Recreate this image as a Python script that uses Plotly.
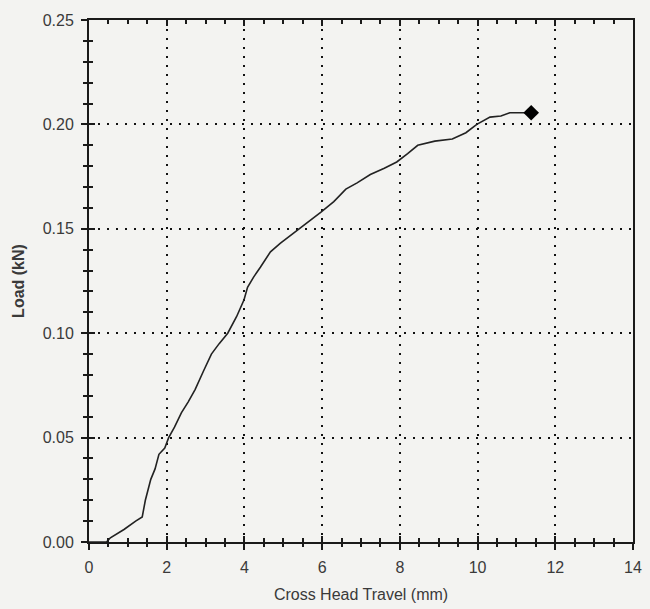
import plotly.graph_objects as go

travel_mm = [0.0, 0.45, 0.55, 0.9, 1.2, 1.37, 1.45, 1.59, 1.7, 1.80, 1.95, 2.05, 2.2, 2.38, 2.55, 2.73, 2.95,
             3.15, 3.35, 3.57, 3.8, 3.99, 4.08, 4.24, 4.41, 4.67, 4.92, 5.34, 5.65, 5.97, 6.3, 6.61, 6.9, 7.24,
             7.6, 7.92, 8.2, 8.46, 8.9, 9.35, 9.7, 9.98, 10.32, 10.6, 10.83, 11.1, 11.38]
load_kn = [0.0, 0.0, 0.002, 0.006, 0.010, 0.012, 0.020, 0.030, 0.035, 0.042, 0.045, 0.050, 0.055, 0.062, 0.067,
           0.073, 0.082, 0.090, 0.095, 0.100, 0.108, 0.116, 0.122, 0.127, 0.1316, 0.139, 0.143, 0.149, 0.153,
           0.158, 0.163, 0.169, 0.172, 0.176, 0.179, 0.182, 0.186, 0.190, 0.192, 0.193, 0.196, 0.200, 0.2035,
           0.204, 0.2056, 0.2056, 0.2056]
peak_x = [11.38]
peak_y = [0.2056]

x_ticks = [0, 2, 4, 6, 8, 10, 12, 14]
y_ticks = [0.00, 0.05, 0.10, 0.15, 0.20, 0.25]
y_tick_labels = ["0.00", "0.05", "0.10", "0.15", "0.20", "0.25"]

bg = "#f3f3f1"
ink = "#1a1a1a"
txt = "#3a3a3a"
font_family = "Liberation Sans, Arial, sans-serif"

fig = go.Figure()
fig.add_trace(go.Scatter(x=travel_mm, y=load_kn, mode="lines",
                         line=dict(color="#222222", width=1.6), showlegend=False))
fig.add_trace(go.Scatter(x=peak_x, y=peak_y, mode="markers",
                         marker=dict(symbol="diamond", size=12, color="#000000"), showlegend=False))
fig.add_trace(go.Scatter(x=[None], y=[None], xaxis="x2", yaxis="y2", showlegend=False))

fig.update_layout(
    width=650, height=609,
    margin=dict(l=89, r=8, t=20, b=67),
    paper_bgcolor=bg, plot_bgcolor=bg,
    font=dict(family=font_family, color=txt, size=15),
    xaxis=dict(
        range=[0, 14], tickvals=x_ticks, ticktext=[str(v) for v in x_ticks],
        showline=True, linecolor=ink, linewidth=2, mirror=True,
        ticks="outside", ticklen=6, tickwidth=2, tickcolor=ink,
        minor=dict(dtick=0.5, ticks="outside", ticklen=3, tickwidth=2, tickcolor=ink, showgrid=False),
        showgrid=True, gridcolor="#111111", gridwidth=2, griddash="2px,7px",
        zeroline=False, tickfont=dict(size=16, color=txt), ticklabelstandoff=4,
        title=dict(text="Cross Head Travel (mm)", font=dict(size=16, color=txt), standoff=14),
    ),
    yaxis=dict(
        range=[0, 0.25], tickvals=y_ticks, ticktext=y_tick_labels,
        showline=True, linecolor=ink, linewidth=2, mirror=True,
        ticks="outside", ticklen=6, tickwidth=2, tickcolor=ink,
        minor=dict(dtick=0.01, ticks="outside", ticklen=4, tickwidth=2, tickcolor=ink, showgrid=False),
        showgrid=True, gridcolor="#111111", gridwidth=2, griddash="2px,7px",
        zeroline=False, tickfont=dict(size=16, color=txt), ticklabelstandoff=4,
        title=dict(text="<b>Load (kN)</b>", font=dict(size=16, color=txt), standoff=14),
    ),
    xaxis2=dict(
        range=[0, 14], overlaying="x", side="bottom", anchor="y2",
        tickvals=x_ticks, showticklabels=False, showgrid=False, zeroline=False,
        showline=False, mirror="ticks",
        ticks="inside", ticklen=6, tickwidth=2, tickcolor=ink,
        minor=dict(dtick=0.5, ticks="inside", ticklen=4, tickwidth=2, tickcolor=ink, showgrid=False),
    ),
    yaxis2=dict(
        range=[0, 0.25], overlaying="y", side="left", anchor="x2",
        tickvals=y_ticks, showticklabels=False, showgrid=False, zeroline=False,
        showline=False,
        ticks="inside", ticklen=6, tickwidth=2, tickcolor=ink,
        minor=dict(dtick=0.01, ticks="inside", ticklen=4, tickwidth=2, tickcolor=ink, showgrid=False),
    ),
)

fig.write_html("out.html")
